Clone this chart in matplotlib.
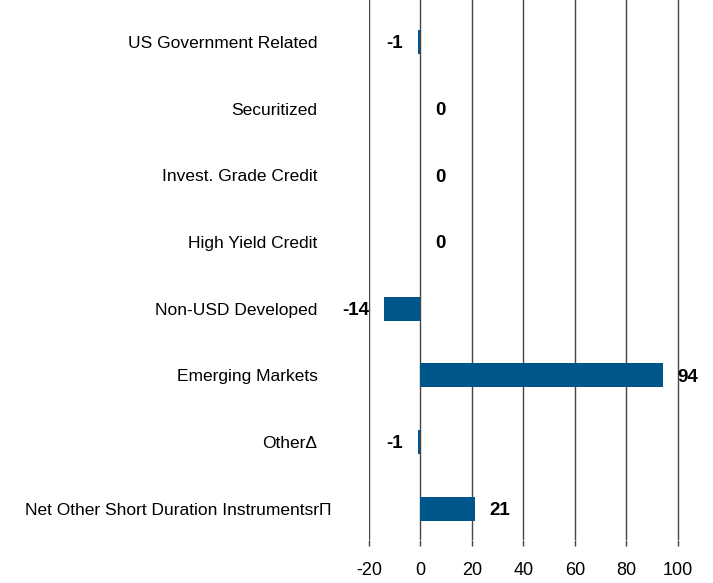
import matplotlib.pyplot as plt
import matplotlib.transforms as mtransforms
import numpy as np

categories = ["US Government Related", "Securitized", "Invest. Grade Credit",
              "High Yield Credit", "Non-USD Developed", "Emerging Markets",
              "Other\u0394", "Net Other Short Duration Instrumentsr\u03a0"]
values = [-1, 0, 0, 0, -14, 94, -1, 21]
ticks = [-20, 0, 20, 40, 60, 80, 100]

plt.rcParams['font.family'] = ['Liberation Sans', 'DejaVu Sans']

fig = plt.figure(figsize=(7.13, 5.83), dpi=100)
ax = fig.add_axes([369 / 713, 43 / 583, (705 - 369) / 713, 540 / 583])

y = np.arange(len(categories))
ax.barh(y, values, height=0.36, color='#00558B', edgecolor='none', zorder=3)

for yi, v in zip(y, values):
    if v < 0:
        ax.annotate(str(v), (v, yi), xytext=(-15, 0), textcoords='offset pixels',
                    ha='right', va='center_baseline', fontsize=13.5, fontweight='bold')
    else:
        ax.annotate(str(v), (v, yi), xytext=(15, 0), textcoords='offset pixels',
                    ha='left', va='center_baseline', fontsize=13.5, fontweight='bold')

ax.set_xlim(-20, 110.5)
ax.set_ylim(len(categories) - 1 + 0.47, -0.63)
ax.set_xticks(ticks)
ax.set_xticklabels([str(t) for t in ticks], fontsize=13)
ax.tick_params(axis='x', length=4, width=1, color='#444444', pad=12)
ax.set_yticks(y)
ax.set_yticklabels(categories, fontsize=12.5)
ax.tick_params(axis='y', length=0, pad=37)

# the footnote label sits a little further right in the original
last = ax.get_yticklabels()[-1]
last.set_transform(last.get_transform() + mtransforms.ScaledTranslation(14 / 100, 0, fig.dpi_scale_trans))

ax.grid(axis='x', color='#444444', linewidth=1, zorder=0)
for s in ax.spines.values():
    s.set_visible(False)

fig.savefig('out.png', dpi=100)
